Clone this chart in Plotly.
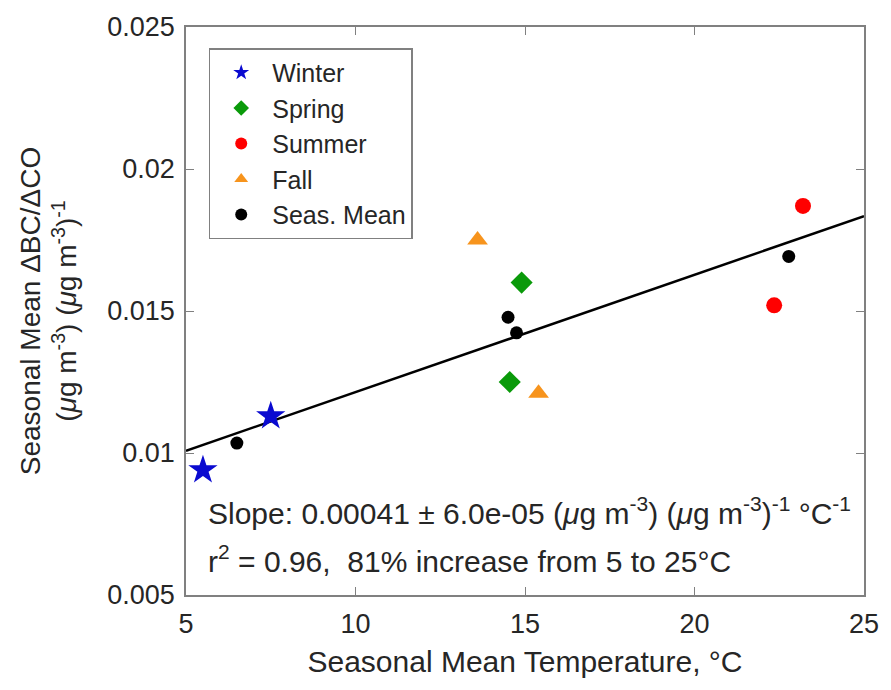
import plotly.graph_objects as go

# ---- data ----
winter_x = [5.5, 7.5]
winter_y = [0.0094, 0.0113]
spring_x = [14.9, 14.55]
spring_y = [0.0160, 0.0125]
summer_x = [23.2, 22.35]
summer_y = [0.0187, 0.0152]
fall_x = [13.6, 15.4]
fall_y = [0.0175, 0.0121]
mean_x = [6.5, 14.5, 14.75, 22.78]
mean_y = [0.01035, 0.01478, 0.01423, 0.01692]

fit_x = [5, 25]
fit_intercept_at5 = 0.01008
fit_slope = 0.000413

x_ticks = [5, 10, 15, 20, 25]
y_ticks = [0.005, 0.01, 0.015, 0.02, 0.025]
y_ticklabels = ["0.005", "0.01", "0.015", "0.02", "0.025"]

FONT = "Liberation Sans, Arial, Helvetica, sans-serif"
TXT = "#262626"
AX = "#808080"

fig = go.Figure()

fit_y = [fit_intercept_at5 + fit_slope * (x - 5) for x in fit_x]
fig.add_trace(go.Scatter(x=fit_x, y=fit_y, mode="lines",
                         line=dict(color="black", width=2.5),
                         showlegend=False, hoverinfo="skip"))

fig.add_trace(go.Scatter(x=winter_x, y=winter_y, mode="markers", name="Winter",
                         marker=dict(symbol="star", size=22, color="#0a0ad0")))
fig.add_trace(go.Scatter(x=spring_x, y=spring_y, mode="markers", name="Spring",
                         marker=dict(symbol="diamond", size=17, color="#0a9a0a")))
fig.add_trace(go.Scatter(x=summer_x, y=summer_y, mode="markers", name="Summer",
                         marker=dict(symbol="circle", size=16, color="#ff0000")))
fig.add_trace(go.Scatter(x=fall_x, y=fall_y, mode="markers", name="Fall",
                         marker=dict(symbol="triangle-up", size=18, color="#f7941d")))
fig.add_trace(go.Scatter(x=mean_x, y=mean_y, mode="markers", name="Seas. Mean",
                         marker=dict(symbol="circle", size=13, color="black")))

mu = "<i>\u03bc</i>"
fig.add_annotation(
    xref="paper", yref="paper", x=0.03, y=0.148, xanchor="left", yanchor="middle",
    text=f"Slope: 0.00041 \u00b1 6.0e-05 ({mu}g m<sup>-3</sup>) ({mu}g m<sup>-3</sup>)<sup>-1</sup> \u00b0C<sup>-1</sup>",
    showarrow=False, font=dict(family=FONT, size=30, color=TXT))
fig.add_annotation(
    xref="paper", yref="paper", x=0.03, y=0.064, xanchor="left", yanchor="middle",
    text="r<sup>2</sup> = 0.96,\u00a0 81% increase from 5 to 25\u00b0C",
    showarrow=False, font=dict(family=FONT, size=30, color=TXT))

fig.update_layout(
    width=891, height=690,
    margin=dict(l=186, r=19, t=22.5, b=94.5),
    paper_bgcolor="white", plot_bgcolor="white",
    font=dict(family=FONT, color=TXT, size=27),
    legend=dict(x=0.0335, y=0.9625, xanchor="left", yanchor="top",
                bgcolor="white", bordercolor=AX, borderwidth=1.5,
                font=dict(family=FONT, size=25, color=TXT),
                itemsizing="constant", itemwidth=52, tracegroupgap=0),
    xaxis=dict(range=[5, 25], tickvals=x_ticks, ticks="inside", ticklen=8,
               tickcolor=AX, showline=True, linecolor=AX, linewidth=1.5,
               mirror="ticks", showgrid=False, zeroline=False,
               ticklabelstandoff=4,
               tickfont=dict(size=27),
               title=dict(text="Seasonal Mean Temperature, \u00b0C",
                          font=dict(size=30), standoff=13)),
    yaxis=dict(range=[0.005, 0.025], tickvals=y_ticks, ticktext=y_ticklabels,
               ticks="inside", ticklen=8,
               tickcolor=AX, showline=True, linecolor=AX, linewidth=1.5,
               mirror="ticks", showgrid=False, zeroline=False,
               ticklabelstandoff=4,
               tickfont=dict(size=27),
               title=dict(text=f"Seasonal Mean \u0394BC/\u0394CO<br>({mu}g m<sup>-3</sup>) ({mu}g m<sup>-3</sup>)<sup>-1</sup>",
                          font=dict(size=28), standoff=22)),
)

fig.write_html("out.html")
